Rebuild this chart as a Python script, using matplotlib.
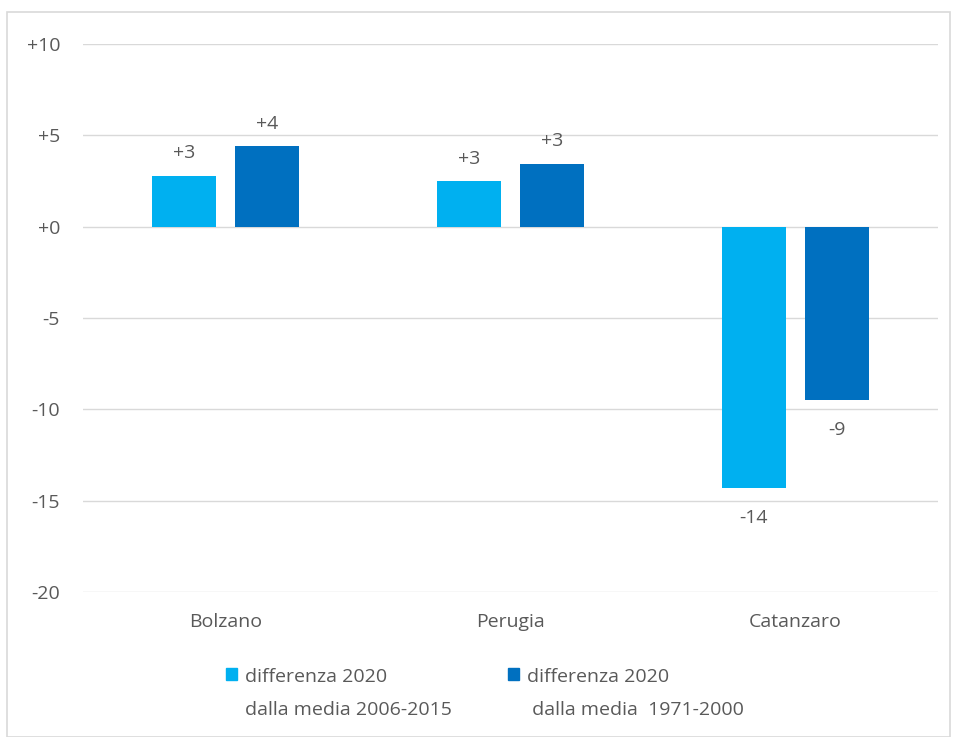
import matplotlib
matplotlib.use("Agg")
import matplotlib.pyplot as plt
from matplotlib.patches import Rectangle, Patch
import numpy as np

categories = ["Bolzano", "Perugia", "Catanzaro"]
diff_2006_2015 = [2.8, 2.5, -14.3]
diff_1971_2000 = [4.4, 3.45, -9.5]
labels_2006_2015 = ["+3", "+3", "-14"]
labels_1971_2000 = ["+4", "+3", "-9"]
series_names = ["differenza 2020\ndalla media 2006-2015",
                "differenza 2020\n dalla media  1971-2000"]
yticks = [10, 5, 0, -5, -10, -15, -20]
ytick_labels = ["+10", "+5", "+0", "-5", "-10", "-15", "-20"]

plt.rcParams['font.family'] = ['Open Sans', 'DejaVu Sans']
TXT = "#595959"
C1 = "#00B0F0"
C2 = "#0070C0"
FS = 14

fig = plt.figure(figsize=(9.55, 7.37), dpi=100)
fig.patches.append(Rectangle((7/955, 0), 943/955, 1 - 12/737, transform=fig.transFigure,
                             fill=False, edgecolor="#D9D9D9", linewidth=1.2))
ax = fig.add_axes([83/955, 1 - 592/737, (938 - 83)/955, (592 - 44)/737])

x = np.arange(len(categories))
w = 0.225
off = 0.146
b1 = ax.bar(x - off, diff_2006_2015, width=w, color=C1, zorder=3)
b2 = ax.bar(x + off, diff_1971_2000, width=w, color=C2, zorder=3)

for bars, labs in ((b1, labels_2006_2015), (b2, labels_1971_2000)):
    for rect, lab in zip(bars, labs):
        h = rect.get_height()
        xc = rect.get_x() + rect.get_width() / 2
        dy = 12.5 if h >= 0 else -25
        ax.annotate(lab, (xc, h), xytext=(0, dy), textcoords="offset points",
                    ha="center", va="baseline", fontsize=FS, color=TXT)

ax.set_xlim(-0.5, len(categories) - 0.5)
ax.set_ylim(-20, 10)
ax.set_yticks(yticks)
ax.set_yticklabels(ytick_labels)
ax.set_xticks(x)
ax.set_xticklabels(categories)
ax.tick_params(axis="both", length=0, labelsize=FS, colors=TXT)
ax.tick_params(axis="y", pad=16.5)
ax.tick_params(axis="x", pad=15)
ax.grid(axis="y", color="#D9D9D9", linewidth=1, zorder=0)
for s in ax.spines.values():
    s.set_visible(False)

handles = [Patch(color=C1), Patch(color=C2)]
leg = fig.legend(handles, series_names, ncol=2, loc="upper left",
                 bbox_to_anchor=(226/955, 1 - 668/737), frameon=False,
                 fontsize=FS, handlelength=0.56, handleheight=0.56,
                 handletextpad=0.42, columnspacing=2.9, borderpad=0,
                 borderaxespad=0)
for t in leg.get_texts():
    t.set_color(TXT)
    t.set_linespacing(2.05)
for col in leg._legend_handle_box.get_children():
    for row in col.get_children():
        row.align = "top"

fig.savefig("out.png", dpi=100)
